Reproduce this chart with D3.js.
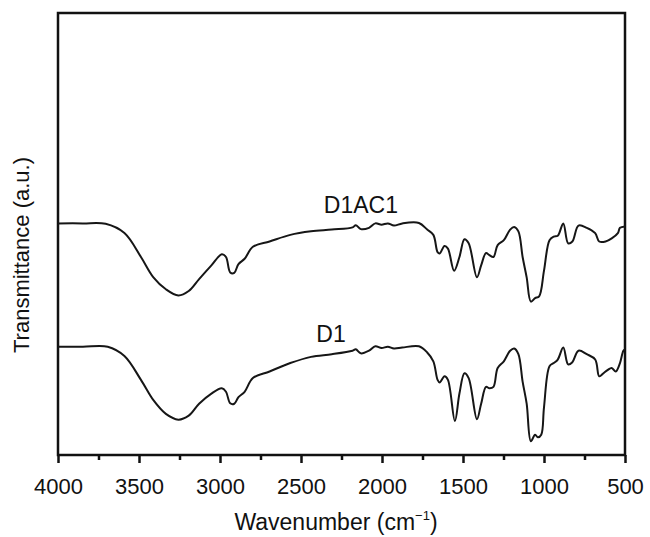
<html>
<head>
  <meta charset="utf-8">
  <script src="https://d3js.org/d3.v7.min.js"></script>
  <style>
    body { margin: 0; background: #fff; }
    text { font-family: "Liberation Sans", Arial, Helvetica, sans-serif; fill: #111; }
  </style>
</head>
<body>
<div id="chart"></div>
<script>
// FTIR spectra, transmittance in arbitrary units (0 = bottom of frame, 100 = top)
var xTicks = [4000, 3500, 3000, 2500, 2000, 1500, 1000, 500];

var d1ac1Wn = [4000, 3846, 3706, 3590, 3488, 3411, 3334, 3257, 3193, 3129, 3053, 2989, 2963, 2937, 2912, 2886, 2848, 2797, 2694, 2566, 2438, 2310, 2182, 2162, 2131, 2080, 2041, 2003, 1964, 1926, 1875, 1772, 1721, 1683, 1657, 1644, 1614, 1593, 1555, 1522, 1491, 1465, 1414, 1388, 1358, 1337, 1312, 1286, 1248, 1209, 1184, 1158, 1132, 1107, 1081, 1055, 1030, 1000, 966, 940, 915, 881, 851, 825, 787, 736, 684, 659, 620, 582, 544, 531, 500];
var d1ac1T  = [52.4, 52.4, 52.3, 50.2, 44.8, 40.2, 37.5, 36.1, 37.1, 39.8, 42.9, 45.4, 44.8, 41.3, 41.2, 43.2, 44.4, 47.1, 48.3, 49.8, 50.6, 51.0, 51.5, 52.0, 51.1, 51.4, 52.4, 52.1, 52.4, 51.9, 52.4, 52.5, 51.0, 49.8, 45.9, 45.6, 47.3, 46.7, 41.7, 44.8, 48.8, 47.9, 40.2, 42.9, 45.7, 45.2, 44.8, 47.5, 48.6, 51.0, 51.6, 50.6, 44.8, 40.2, 34.7, 35.5, 35.9, 41.7, 48.6, 49.4, 49.6, 52.4, 47.9, 48.3, 51.9, 51.4, 50.2, 48.3, 48.3, 49.0, 50.2, 51.4, 51.7];

var d1Wn = [4000, 3846, 3693, 3590, 3488, 3411, 3334, 3257, 3193, 3129, 3053, 2989, 2963, 2937, 2912, 2886, 2848, 2797, 2694, 2566, 2438, 2310, 2182, 2162, 2131, 2080, 2041, 2003, 1964, 1926, 1875, 1772, 1721, 1683, 1657, 1644, 1614, 1593, 1550, 1522, 1491, 1465, 1414, 1388, 1358, 1337, 1312, 1286, 1248, 1209, 1184, 1158, 1132, 1107, 1081, 1055, 1038, 1017, 1000, 966, 940, 915, 881, 851, 825, 787, 736, 684, 659, 633, 608, 582, 557, 531, 510, 500];
var d1T  = [24.5, 24.5, 24.5, 22.4, 17.0, 12.4, 9.3, 8.0, 8.9, 11.6, 13.9, 15.1, 14.3, 11.7, 11.6, 13.1, 14.3, 17.4, 18.9, 20.8, 22.2, 22.8, 23.6, 23.9, 23.0, 23.6, 24.6, 24.2, 24.5, 24.1, 24.3, 24.6, 23.2, 21.2, 17.0, 16.4, 17.8, 17.0, 7.7, 13.9, 18.5, 17.4, 8.1, 11.6, 15.4, 15.1, 15.4, 19.7, 21.2, 23.6, 24.1, 22.8, 16.6, 11.6, 3.1, 4.6, 4.0, 4.6, 10.8, 20.1, 20.8, 21.6, 24.3, 20.5, 21.0, 23.6, 22.8, 21.6, 17.8, 18.5, 19.2, 19.7, 18.9, 20.8, 23.6, 23.9];

var seriesNames = ["D1AC1", "D1"];

var width = 650, height = 537;
var margin = {left: 58, right: 25, top: 13, bottom: 82};

var svg = d3.select("#chart").append("svg")
    .attr("width", width)
    .attr("height", height);

var x = d3.scaleLinear().domain([4000, 500]).range([margin.left, width - margin.right]);
var y = d3.scaleLinear().domain([0, 100]).range([height - margin.bottom, margin.top]);

// major ticks with labels
svg.append("g")
    .attr("transform", "translate(0," + (height - margin.bottom) + ")")
    .call(d3.axisBottom(x).tickValues(xTicks).tickSize(8).tickPadding(15).tickFormat(d3.format("d")))
    .call(function(g) {
      g.select(".domain").remove();
      g.selectAll("line").attr("stroke", "#111").attr("stroke-width", 2.5);
      g.selectAll("text").style("font-size", "22px").attr("fill", "#111");
    });

// minor ticks
svg.append("g")
    .attr("transform", "translate(0," + (height - margin.bottom) + ")")
    .call(d3.axisBottom(x).tickValues(d3.range(3750, 500, -500)).tickSize(5).tickFormat(""))
    .call(function(g) {
      g.select(".domain").remove();
      g.selectAll("line").attr("stroke", "#111").attr("stroke-width", 2.5);
    });

// frame
svg.append("rect")
    .attr("x", margin.left)
    .attr("y", margin.top)
    .attr("width", width - margin.left - margin.right)
    .attr("height", height - margin.top - margin.bottom)
    .attr("fill", "none")
    .attr("stroke", "#111")
    .attr("stroke-width", 2.5);

var line = d3.line()
    .x(function(d) { return x(d[0]); })
    .y(function(d) { return y(d[1]); })
    .curve(d3.curveCatmullRom.alpha(0.5));

var series = [d3.zip(d1ac1Wn, d1ac1T), d3.zip(d1Wn, d1T)];

svg.selectAll(".spec")
    .data(series)
    .enter()
    .append("path")
      .attr("class", "spec")
      .attr("d", line)
      .attr("fill", "none")
      .attr("stroke", "#161616")
      .attr("stroke-width", 2);

// curve labels
svg.append("text").text(seriesNames[0])
    .attr("x", x(2130)).attr("y", 213)
    .attr("text-anchor", "middle")
    .style("font-size", "23px");
svg.append("text").text(seriesNames[1])
    .attr("x", x(2315)).attr("y", 342)
    .attr("text-anchor", "middle")
    .style("font-size", "23px");

// axis titles
var xt = svg.append("text")
    .attr("x", 336)
    .attr("y", 530)
    .attr("text-anchor", "middle")
    .style("font-size", "23px");
xt.append("tspan").text("Wavenumber (cm");
xt.append("tspan").text("\u22121").attr("dy", -10).style("font-size", "13px");
xt.append("tspan").text(")").attr("dy", 10);

svg.append("text")
    .attr("transform", "translate(29,255) rotate(-90)")
    .attr("text-anchor", "middle")
    .style("font-size", "22px")
    .text("Transmittance (a.u.)");
</script>
</body>
</html>
